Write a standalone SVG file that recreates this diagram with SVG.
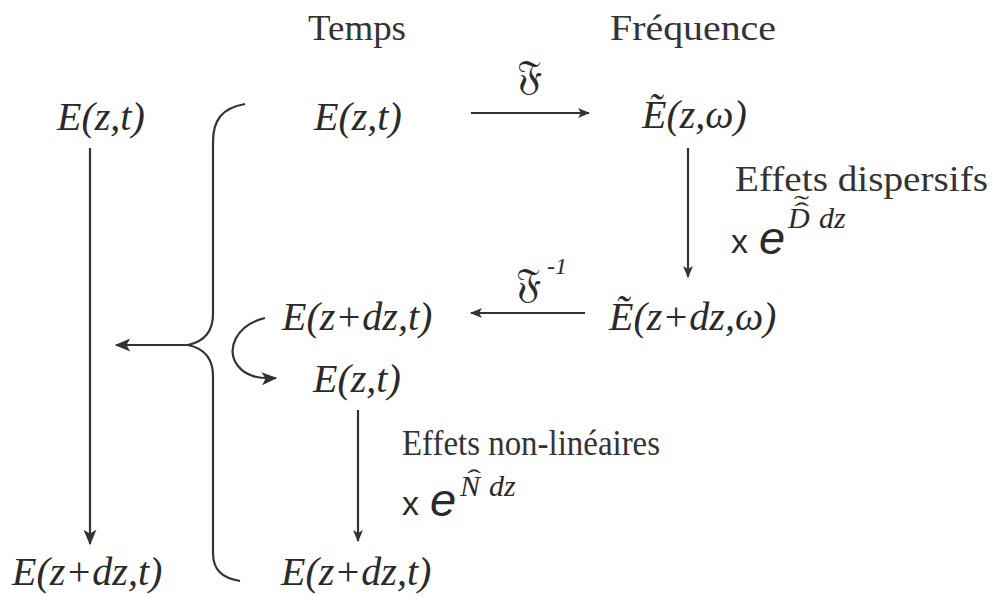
<svg xmlns="http://www.w3.org/2000/svg" width="994" height="597" viewBox="0 0 994 597">
<style>
  .lbl { font-family: "Liberation Serif", "DejaVu Serif", serif; font-style: italic; font-size: 40px; fill: #2a2a2a; }
  .hdr { font-family: "Liberation Serif", "DejaVu Serif", serif; font-size: 36px; fill: #333; }
  .sm { font-family: "Liberation Serif", "DejaVu Serif", serif; font-style: italic; fill: #2a2a2a; }
  .acc { font-family: "Liberation Serif", "DejaVu Serif", serif; font-size: 24px; fill: #2a2a2a; }
  .sans { font-family: "Liberation Sans", Arial, sans-serif; fill: #2a2a2a; }
  .frak { font-family: "DejaVu Serif", "DejaVu Sans", "Noto Sans", serif; font-size: 40px; fill: #2a2a2a; }
  .ln { fill: none; stroke: #333; stroke-width: 2.2; }
</style>
<defs>
  <marker id="ah" viewBox="0 0 12 10" refX="11" refY="5" markerWidth="12" markerHeight="10" markerUnits="userSpaceOnUse" orient="auto">
    <path d="M0,0 L12,5 L0,10 L3,5 Z" fill="#333"/>
  </marker>
  <marker id="ahs" viewBox="0 0 12 10" refX="11" refY="5" markerWidth="16" markerHeight="13" markerUnits="userSpaceOnUse" orient="auto">
    <path d="M0,0 L12,5 L0,10 L3,5 Z" fill="#333"/>
  </marker>
</defs>

<g id="headers">
  <text class="hdr" x="308" y="40" textLength="98" lengthAdjust="spacingAndGlyphs">Temps</text>
  <text class="hdr" x="610" y="40" textLength="166" lengthAdjust="spacingAndGlyphs">Fréquence</text>
</g>

<g id="n-left-top"><text class="lbl" x="57" y="130">E(z,t)</text></g>
<g id="n-left-bottom"><text class="lbl" x="12" y="585">E(z+dz,t)</text></g>
<g id="n-time-top"><text class="lbl" x="314" y="130">E(z,t)</text></g>
<g id="n-freq-top"><text class="lbl" x="642" y="128">Ẽ(z,ω)</text></g>
<g id="n-freq-bottom"><text class="lbl" x="609" y="330">Ẽ(z+dz,ω)</text></g>
<g id="n-time-mid"><text class="lbl" x="282" y="330">E(z+dz,t)</text></g>
<g id="n-time-mid2"><text class="lbl" x="313" y="392">E(z,t)</text></g>
<g id="n-time-bottom"><text class="lbl" x="281" y="585">E(z+dz,t)</text></g>

<g id="lbl-fourier">
  <text class="frak" x="517" y="89">𝔉</text>
</g>
<g id="lbl-ifourier">
  <text class="frak" x="516" y="297">𝔉</text>
  <text class="sm" x="547" y="274" font-size="24">-1</text>
</g>
<g id="lbl-disp">
  <text class="hdr" x="735" y="191" font-size="38" textLength="253" lengthAdjust="spacingAndGlyphs">Effets dispersifs</text>
  <text class="sans" x="731" y="253" font-size="34">x</text>
  <text class="sans" x="759" y="254" font-size="47" font-style="italic">e</text>
  <text class="sm" x="788" y="228" font-size="30">D</text>
  <text class="acc" x="794" y="219" textLength="15" lengthAdjust="spacingAndGlyphs">ˆ</text>
  <text class="acc" x="794" y="212" textLength="15" lengthAdjust="spacingAndGlyphs">˜</text>
  <text class="sm" x="819" y="228" font-size="30">dz</text>
</g>
<g id="lbl-nonlin">
  <text class="hdr" x="402" y="455" font-size="38" textLength="258" lengthAdjust="spacingAndGlyphs">Effets non-linéaires</text>
  <text class="sans" x="402" y="515" font-size="34">x</text>
  <text class="sans" x="430" y="516" font-size="47" font-style="italic">e</text>
  <text class="sm" x="460" y="496" font-size="30">N</text>
  <text class="acc" x="467" y="486" textLength="14" lengthAdjust="spacingAndGlyphs">ˆ</text>
  <text class="sm" x="489" y="496" font-size="30">dz</text>
</g>

<g id="connectors">
  <line class="ln" x1="90" y1="148" x2="90" y2="544" marker-end="url(#ahs)"/>
  <path class="ln" d="M245,104 C222,108 213,120 213,142 L213,314 C213,333 202,342 188,345 C202,348 213,357 213,376 L213,553 C213,570 222,578 240,581"/>
  <line class="ln" x1="188" y1="345" x2="116" y2="345" marker-end="url(#ahs)"/>
  <line class="ln" x1="471" y1="113" x2="589" y2="113" marker-end="url(#ah)"/>
  <line class="ln" x1="688" y1="148" x2="688" y2="277" marker-end="url(#ah)"/>
  <line class="ln" x1="585" y1="313" x2="471" y2="313" marker-end="url(#ah)"/>
  <path class="ln" d="M265,318 C236,325 225,350 238,366 C246,376 258,379 276,378" marker-end="url(#ahs)"/>
  <line class="ln" x1="358" y1="410" x2="358" y2="541" marker-end="url(#ah)"/>
</g>
</svg>
